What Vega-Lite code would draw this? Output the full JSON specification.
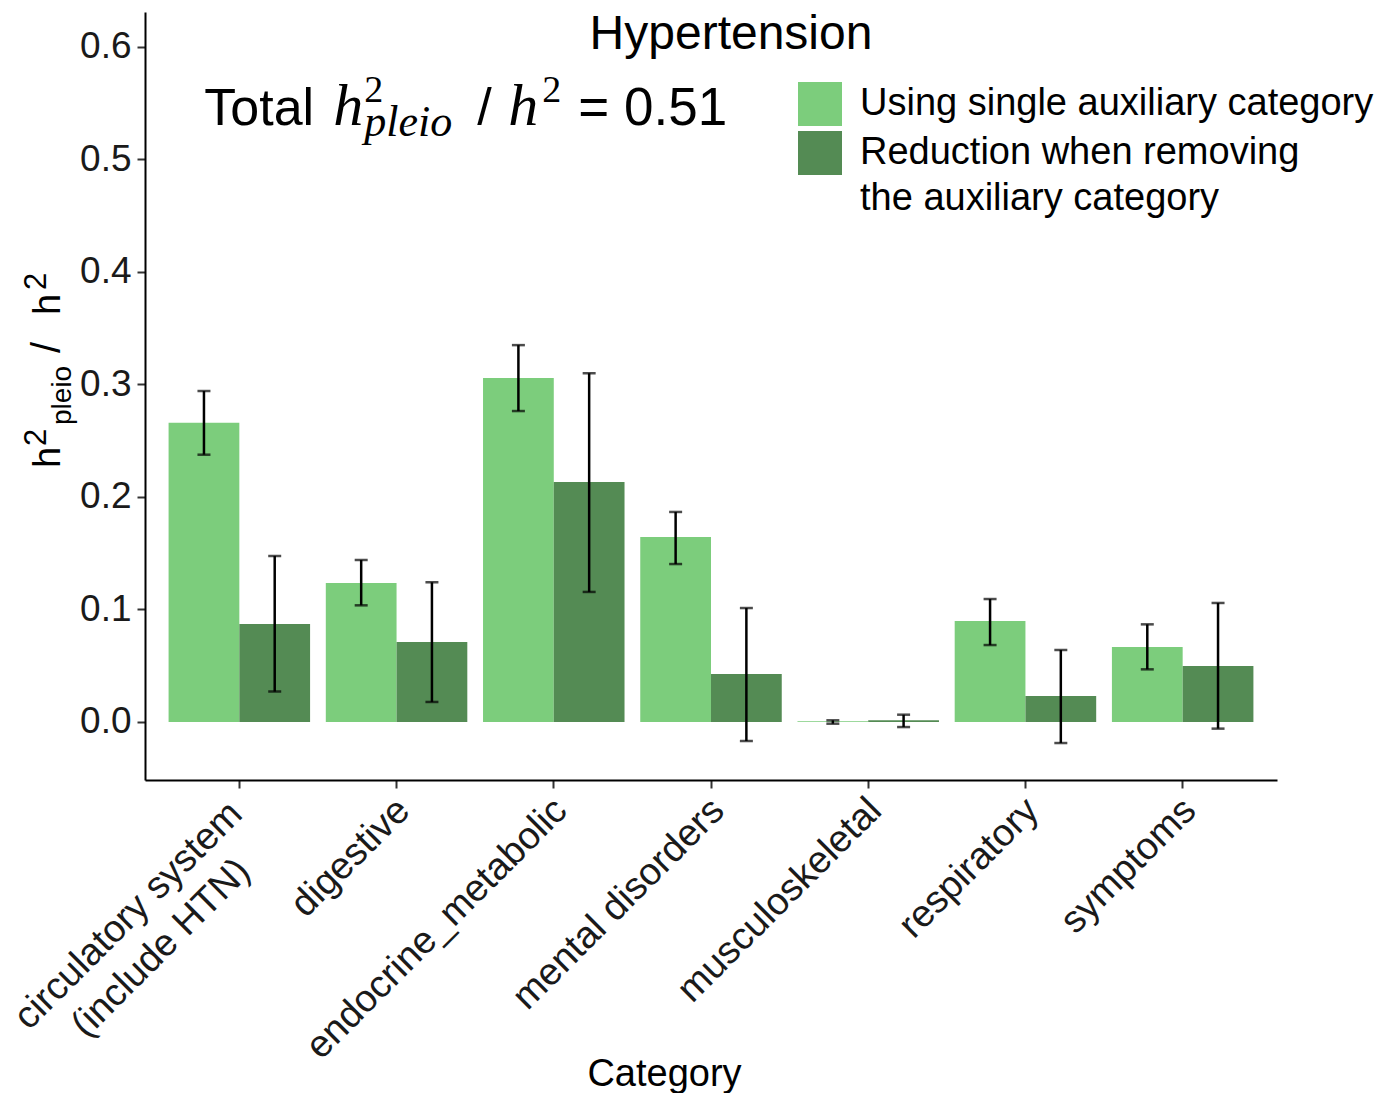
{
  "$schema": "https://vega.github.io/schema/vega-lite/v6.json",
  "width": 1132,
  "height": 768,
  "autosize": {"type": "none"},
  "padding": {"left": 145, "top": 12, "right": 108, "bottom": 313},
  "background": "white",
  "title": {
    "text": "Hypertension",
    "frame": "group",
    "anchor": "middle",
    "orient": "top",
    "baseline": "alphabetic",
    "offset": -85,
    "dx": 20,
    "font": "Liberation Sans",
    "fontSize": 48,
    "fontWeight": "normal",
    "color": "black"
  },
  "config": {
    "view": {"stroke": null},
    "font": "Liberation Sans",
    "axis": {"grid": false}
  },
  "datasets": {
    "pleio": [
      {"category": "circulatory system (include HTN)", "group": "Using single auxiliary category", "value": 0.266, "lo": 0.2376, "hi": 0.2942},
      {"category": "circulatory system (include HTN)", "group": "Reduction when removing the auxiliary category", "value": 0.0871, "lo": 0.027, "hi": 0.1476},
      {"category": "digestive", "group": "Using single auxiliary category", "value": 0.1236, "lo": 0.1037, "hi": 0.144},
      {"category": "digestive", "group": "Reduction when removing the auxiliary category", "value": 0.0711, "lo": 0.0178, "hi": 0.1242},
      {"category": "endocrine_metabolic", "group": "Using single auxiliary category", "value": 0.3058, "lo": 0.2764, "hi": 0.335},
      {"category": "endocrine_metabolic", "group": "Reduction when removing the auxiliary category", "value": 0.2133, "lo": 0.1156, "hi": 0.310},
      {"category": "mental disorders", "group": "Using single auxiliary category", "value": 0.1644, "lo": 0.1404, "hi": 0.1867},
      {"category": "mental disorders", "group": "Reduction when removing the auxiliary category", "value": 0.0427, "lo": -0.0169, "hi": 0.1013},
      {"category": "musculoskeletal", "group": "Using single auxiliary category", "value": 0.0006, "lo": -0.0015, "hi": 0.0015},
      {"category": "musculoskeletal", "group": "Reduction when removing the auxiliary category", "value": 0.0015, "lo": -0.0045, "hi": 0.0065},
      {"category": "respiratory", "group": "Using single auxiliary category", "value": 0.0898, "lo": 0.0684, "hi": 0.1093},
      {"category": "respiratory", "group": "Reduction when removing the auxiliary category", "value": 0.0231, "lo": -0.0187, "hi": 0.064},
      {"category": "symptoms", "group": "Using single auxiliary category", "value": 0.0667, "lo": 0.0468, "hi": 0.0868},
      {"category": "symptoms", "group": "Reduction when removing the auxiliary category", "value": 0.0498, "lo": -0.0059, "hi": 0.1058}
    ]
  },
  "layer": [
    {
      "data": {"name": "pleio"},
      "mark": {"type": "bar", "strokeWidth": 0},
      "encoding": {
        "x": {
          "field": "category",
          "type": "nominal",
          "sort": null,
          "scale": {"paddingInner": 0.1, "paddingOuter": 0.15},
          "axis": {
            "title": "Category",
            "titleFont": "Liberation Sans",
            "titleFontSize": 38,
            "titleFontWeight": "normal",
            "titleColor": "black",
            "titleX": 519,
            "titleY": 305,
            "titleBaseline": "alphabetic",
            "titleAlign": "center",
            "labelAngle": -45,
            "labelAlign": {"condition": {"test": "datum.value == 'circulatory system (include HTN)'", "value": "center"}, "value": "right"},
            "labelOffset": {"condition": {"test": "datum.value == 'circulatory system (include HTN)'", "value": -124}, "value": -6},
            "labelPadding": {"condition": {"test": "datum.value == 'circulatory system (include HTN)'", "value": 114}, "value": 3},
            "labelBaseline": "top",
            "labelFont": "Liberation Sans",
            "labelFontSize": 38,
            "labelColor": "#1a1a1a",
            "labelLimit": 0,
            "labelLineHeight": 46,
            "labelOverlap": false,
            "labelBound": false,
            "labelFlush": false,
            "labelExpr": "datum.value == 'circulatory system (include HTN)' ? ['circulatory system', '(include HTN)'] : datum.label",
            "domainColor": "black",
            "domainWidth": 2,
            "tickColor": "#333333",
            "tickWidth": 2,
            "tickSize": 8
          }
        },
        "xOffset": {
          "field": "group",
          "type": "nominal",
          "sort": ["Using single auxiliary category", "Reduction when removing the auxiliary category"],
          "scale": {"paddingInner": 0, "paddingOuter": 0}
        },
        "y": {
          "field": "value",
          "type": "quantitative",
          "scale": {"domain": [-0.05156, 0.6311], "nice": false, "zero": false},
          "axis": {
            "title": null,
            "values": [0, 0.1, 0.2, 0.3, 0.4, 0.5, 0.6],
            "format": ".1f",
            "labelFont": "Liberation Sans",
            "labelFontSize": 37,
            "labelColor": "#1a1a1a",
            "labelPadding": 6,
            "domainColor": "black",
            "domainWidth": 2,
            "tickColor": "#333333",
            "tickWidth": 2,
            "tickSize": 8
          }
        },
        "y2": {"datum": 0},
        "color": {
          "field": "group",
          "type": "nominal",
          "scale": {
            "domain": ["Using single auxiliary category", "Reduction when removing the auxiliary category"],
            "range": ["#7CCD7C", "#548B54"]
          },
          "legend": {
            "title": null,
            "orient": "none",
            "legendX": 653,
            "legendY": 70,
            "padding": 0,
            "symbolType": "square",
            "symbolSize": 1936,
            "symbolStrokeWidth": 0,
            "symbolOpacity": 1,
            "labelFont": "Liberation Sans",
            "labelFontSize": 38,
            "labelColor": "black",
            "labelOffset": 18,
            "labelLimit": 0,
            "labelBaseline": "middle",
            "rowPadding": 5,
            "labelExpr": "datum.label == 'Reduction when removing the auxiliary category' ? ['Reduction when removing', 'the auxiliary category'] : datum.label",
            "encode": {"labels": {"update": {"lineHeight": {"value": 46}}}}
          }
        }
      }
    },
    {
      "data": {"name": "pleio"},
      "mark": {"type": "rule", "color": "black", "strokeWidth": 2.5},
      "encoding": {
        "x": {"field": "category", "type": "nominal", "sort": null},
        "xOffset": {"field": "group", "type": "nominal", "sort": ["Using single auxiliary category", "Reduction when removing the auxiliary category"]},
        "y": {"field": "lo", "type": "quantitative"},
        "y2": {"field": "hi"}
      }
    },
    {
      "data": {"name": "pleio"},
      "mark": {"type": "tick", "color": "black", "size": 13, "thickness": 2.5, "orient": "horizontal"},
      "encoding": {
        "x": {"field": "category", "type": "nominal", "sort": null},
        "xOffset": {"field": "group", "type": "nominal", "sort": ["Using single auxiliary category", "Reduction when removing the auxiliary category"]},
        "y": {"field": "lo", "type": "quantitative"}
      }
    },
    {
      "data": {"name": "pleio"},
      "mark": {"type": "tick", "color": "black", "size": 13, "thickness": 2.5, "orient": "horizontal"},
      "encoding": {
        "x": {"field": "category", "type": "nominal", "sort": null},
        "xOffset": {"field": "group", "type": "nominal", "sort": ["Using single auxiliary category", "Reduction when removing the auxiliary category"]},
        "y": {"field": "hi", "type": "quantitative"}
      }
    },
    {
      "data": {"values": [{"piece": "Total"}]},
      "mark": {"type": "text", "font": "Liberation Sans", "fontSize": 52, "align": "left", "baseline": "alphabetic", "dx": -35, "color": "black"},
      "encoding": {"text": {"field": "piece"}, "x": {"datum": "circulatory system (include HTN)"}, "y": {"datum": 0.5307}}
    },
    {
      "data": {"values": [{"piece": "h"}]},
      "mark": {"type": "text", "font": "Liberation Serif", "fontStyle": "italic", "fontSize": 60, "align": "left", "baseline": "alphabetic", "dx": 94, "color": "black"},
      "encoding": {"text": {"field": "piece"}, "x": {"datum": "circulatory system (include HTN)"}, "y": {"datum": 0.5307}}
    },
    {
      "data": {"values": [{"piece": "2"}]},
      "mark": {"type": "text", "font": "Liberation Serif", "fontSize": 38, "align": "left", "baseline": "alphabetic", "dx": 125, "dy": -23, "color": "black"},
      "encoding": {"text": {"field": "piece"}, "x": {"datum": "circulatory system (include HTN)"}, "y": {"datum": 0.5307}}
    },
    {
      "data": {"values": [{"piece": "pleio"}]},
      "mark": {"type": "text", "font": "Liberation Serif", "fontStyle": "italic", "fontSize": 44, "align": "left", "baseline": "alphabetic", "dx": 125, "dy": 11, "color": "black"},
      "encoding": {"text": {"field": "piece"}, "x": {"datum": "circulatory system (include HTN)"}, "y": {"datum": 0.5307}}
    },
    {
      "data": {"values": [{"piece": "/"}]},
      "mark": {"type": "text", "font": "Liberation Sans", "fontSize": 52, "align": "left", "baseline": "alphabetic", "dx": 238, "color": "black"},
      "encoding": {"text": {"field": "piece"}, "x": {"datum": "circulatory system (include HTN)"}, "y": {"datum": 0.5307}}
    },
    {
      "data": {"values": [{"piece": "h"}]},
      "mark": {"type": "text", "font": "Liberation Serif", "fontStyle": "italic", "fontSize": 60, "align": "left", "baseline": "alphabetic", "dx": 269, "color": "black"},
      "encoding": {"text": {"field": "piece"}, "x": {"datum": "circulatory system (include HTN)"}, "y": {"datum": 0.5307}}
    },
    {
      "data": {"values": [{"piece": "2"}]},
      "mark": {"type": "text", "font": "Liberation Serif", "fontSize": 38, "align": "left", "baseline": "alphabetic", "dx": 303, "dy": -23, "color": "black"},
      "encoding": {"text": {"field": "piece"}, "x": {"datum": "circulatory system (include HTN)"}, "y": {"datum": 0.5307}}
    },
    {
      "data": {"values": [{"piece": "= 0.51"}]},
      "mark": {"type": "text", "font": "Liberation Sans", "fontSize": 53, "align": "left", "baseline": "alphabetic", "dx": 339, "color": "black"},
      "encoding": {"text": {"field": "piece"}, "x": {"datum": "circulatory system (include HTN)"}, "y": {"datum": 0.5307}}
    },
    {
      "data": {"values": [{"piece": "h"}]},
      "mark": {"type": "text", "font": "Liberation Sans", "fontSize": 38, "angle": 270, "align": "left", "baseline": "alphabetic", "dx": 0, "dy": -179, "color": "black"},
      "encoding": {"text": {"field": "piece"}, "x": {"datum": "circulatory system (include HTN)"}, "y": {"datum": 0.2258}}
    },
    {
      "data": {"values": [{"piece": "2"}]},
      "mark": {"type": "text", "font": "Liberation Sans", "fontSize": 31, "angle": 270, "align": "left", "baseline": "alphabetic", "dx": 22, "dy": -193, "color": "black"},
      "encoding": {"text": {"field": "piece"}, "x": {"datum": "circulatory system (include HTN)"}, "y": {"datum": 0.2258}}
    },
    {
      "data": {"values": [{"piece": "pleio"}]},
      "mark": {"type": "text", "font": "Liberation Sans", "fontSize": 28, "angle": 270, "align": "left", "baseline": "alphabetic", "dx": 43, "dy": -168, "color": "black"},
      "encoding": {"text": {"field": "piece"}, "x": {"datum": "circulatory system (include HTN)"}, "y": {"datum": 0.2258}}
    },
    {
      "data": {"values": [{"piece": "/"}]},
      "mark": {"type": "text", "font": "Liberation Sans", "fontSize": 40, "angle": 270, "align": "left", "baseline": "alphabetic", "dx": 115, "dy": -179, "color": "black"},
      "encoding": {"text": {"field": "piece"}, "x": {"datum": "circulatory system (include HTN)"}, "y": {"datum": 0.2258}}
    },
    {
      "data": {"values": [{"piece": "h"}]},
      "mark": {"type": "text", "font": "Liberation Sans", "fontSize": 38, "angle": 270, "align": "left", "baseline": "alphabetic", "dx": 153, "dy": -179, "color": "black"},
      "encoding": {"text": {"field": "piece"}, "x": {"datum": "circulatory system (include HTN)"}, "y": {"datum": 0.2258}}
    },
    {
      "data": {"values": [{"piece": "2"}]},
      "mark": {"type": "text", "font": "Liberation Sans", "fontSize": 31, "angle": 270, "align": "left", "baseline": "alphabetic", "dx": 178, "dy": -193, "color": "black"},
      "encoding": {"text": {"field": "piece"}, "x": {"datum": "circulatory system (include HTN)"}, "y": {"datum": 0.2258}}
    }
  ]
}
